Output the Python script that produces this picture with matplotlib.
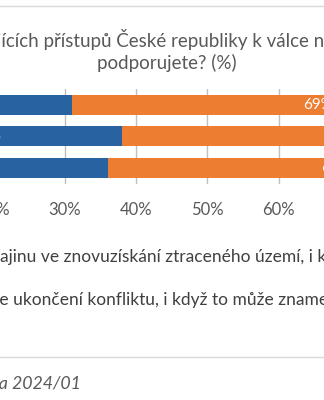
import matplotlib.pyplot as plt
import numpy as np

# survey answers, share of respondents in %
waves = ['2023/01', '2023/06', '2024/01']
support_ukraine = [31, 38, 36]
end_conflict = [69, 62, 64]

title_line1 = 'Který z následujících přístupů České republiky k válce na Ukrajině'
title_line2 = 'podporujete? (%)'
legend_labels = [
    'Podporovat Ukrajinu ve znovuzískání ztraceného území, i když to může znamenat prodloužení konfliktu',
    'Prosazovat mírové jednání a co nejdříve ukončení konfliktu, i když to může znamenat ztrátu části území Ukrajiny',
]
source = 'Zdroj: STEM, Trendy Česka 2024/01'
xticks = [0, 10, 20, 30, 40, 50, 60, 70, 80, 90, 100]

blue = '#2862A0'
orange = '#ED7D31'
grey_text = '#595959'

W, H = 324, 400
plt.rcParams['font.family'] = ['Lato', 'DejaVu Sans']

fig = plt.figure(figsize=(W / 100, H / 100), dpi=100)
renderer = fig.canvas.get_renderer()

# plot area is wider than the figure, only the middle part shows
ax = fig.add_axes([-149 / W, 1 - 183.5 / H, 713 / W, 94.5 / H])
y = np.arange(len(waves))
ax.barh(y, support_ukraine, height=0.63, color=blue, zorder=2)
ax.barh(y, end_conflict, left=support_ukraine, height=0.63, color=orange, zorder=2)

for i in range(len(waves)):
    ax.text(support_ukraine[i] / 2, i, '%d%%' % support_ukraine[i],
            ha='center', va='center', color='white', fontsize=11)
    ax.text(support_ukraine[i] + end_conflict[i] / 2, i, '%d%%' % end_conflict[i],
            ha='center', va='center', color='white', fontsize=11)

ax.set_xlim(0, 100)
ax.set_ylim(-0.5, len(waves) - 0.5)
ax.invert_yaxis()
ax.set_xticks(xticks)
ax.set_xticklabels(['%d%%' % t for t in xticks], fontsize=12, color=grey_text)
ax.set_yticks([])
ax.tick_params(axis='x', length=0, pad=13)
ax.grid(axis='x', color='#BFBFBF', linewidth=1, zorder=0)
for s in ax.spines.values():
    s.set_visible(False)


def cut_text(full, prefix, x0, ypx, **kw):
    # place a string so that the part after `prefix` starts at pixel x0
    probe = fig.text(0, 0, prefix, **kw)
    w = probe.get_window_extent(renderer).width
    probe.remove()
    fig.text((x0 - w) / W, 1 - ypx / H, full, ha='left', va='center', **kw)


cut_text(title_line1, 'Který z následuj', 1, 40, fontsize=13.5, color=grey_text)
fig.text(167 / W, 1 - 63 / H, title_line2, ha='center', va='center',
         fontsize=13.5, color=grey_text)

cut_text(legend_labels[0], 'Podporovat Ukr', 0, 257, fontsize=12.5, color='#404040')
cut_text(legend_labels[1], 'Prosazovat mírové jednání a co nejdřív', -1, 300,
         fontsize=12.5, color='#404040')
cut_text(source, 'Zdroj: STEM, Trendy Česk', -1, 382, fontsize=12.8,
         color=grey_text, style='italic')

# thin frame lines above the title and above the source note
fig.add_artist(plt.Line2D([0, 1], [1 - 6 / H, 1 - 6 / H], color='#D9D9D9', linewidth=1))
fig.add_artist(plt.Line2D([0, 1], [1 - 357 / H, 1 - 357 / H], color='#D9D9D9', linewidth=1))

fig.savefig('out.png', dpi=100)
